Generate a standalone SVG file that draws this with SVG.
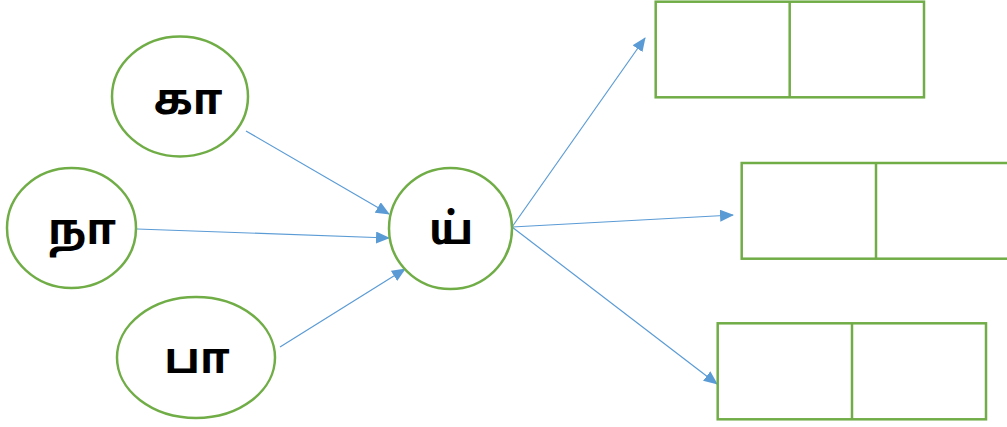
<svg xmlns="http://www.w3.org/2000/svg" width="1007" height="427" viewBox="0 0 1007 427">
<style>
.n{fill:#fff;stroke:#70AD47;stroke-width:2.5}
.b{fill:#fff;stroke:#70AD47;stroke-width:2.5}
.t{font-family:"Noto Sans Tamil","Lohit Tamil","Latha","Noto Sans","DejaVu Sans",sans-serif;font-weight:bold;font-size:43px;fill:#000;text-anchor:middle}
.c{stroke:#5B9BD5;stroke-width:1.2;fill:none;marker-end:url(#ah)}
</style>
<defs>
<marker id="ah" markerUnits="userSpaceOnUse" markerWidth="14" markerHeight="12" refX="13" refY="6" orient="auto">
<path d="M0,0 L14,6 L0,12 Z" fill="#5B9BD5"/>
</marker>
</defs>
<rect width="1007" height="427" fill="#fff"/>
<g id="connectors">
<line class="c" x1="246" y1="131" x2="389" y2="214"/>
<line class="c" x1="137" y1="229" x2="389" y2="238"/>
<line class="c" x1="280" y1="347" x2="405" y2="269"/>
<line class="c" x1="512" y1="227" x2="645" y2="38"/>
<line class="c" x1="512" y1="227" x2="733" y2="215"/>
<line class="c" x1="512" y1="227" x2="717" y2="384"/>
</g>
<g id="node-ka"><ellipse class="n" cx="180" cy="96.5" rx="68" ry="60"/><text class="t" x="188" y="114">கா</text></g>
<g id="node-na"><ellipse class="n" cx="71.5" cy="228" rx="64.5" ry="60"/><text class="t" x="82" y="244">நா</text></g>
<g id="node-pa"><ellipse class="n" cx="196" cy="357.5" rx="79" ry="60.5"/><text class="t" x="197" y="373">பா</text></g>
<g id="node-y"><ellipse class="n" cx="450.5" cy="228.5" rx="61.5" ry="60.5"/><text class="t" x="451" y="244">ய்</text></g>
<g id="box-1"><rect class="b" x="655.7" y="1.7" width="268.3" height="95.6"/><line class="b" x1="789.7" y1="1.7" x2="789.7" y2="97.3"/></g>
<g id="box-2"><rect class="b" x="741.7" y="163" width="268.3" height="95.7"/><line class="b" x1="876" y1="163" x2="876" y2="258.7"/></g>
<g id="box-3"><rect class="b" x="717.7" y="323.3" width="268.3" height="96"/><line class="b" x1="852" y1="323.3" x2="852" y2="419.3"/></g>
</svg>
